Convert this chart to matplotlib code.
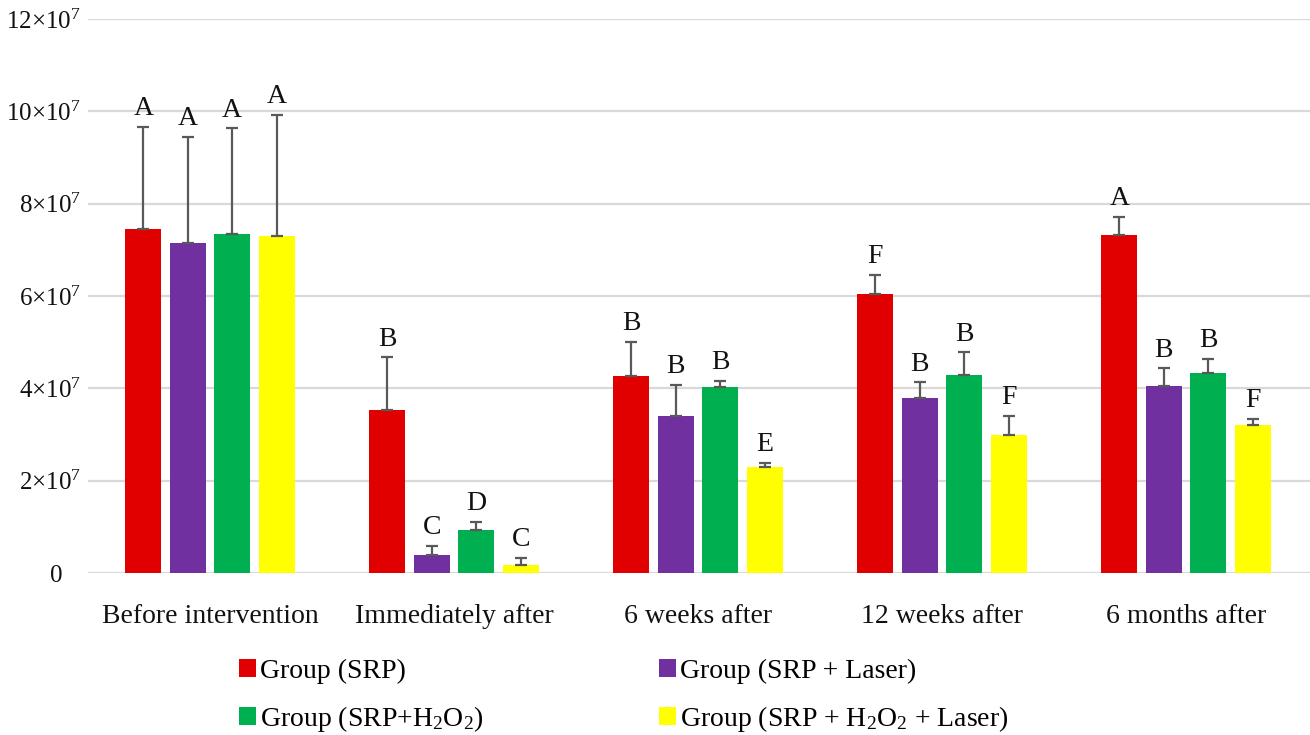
import matplotlib
matplotlib.use('Agg')
import matplotlib.pyplot as plt
import numpy as np

plt.rcParams['font.family'] = ['Liberation Serif', 'DejaVu Serif']
plt.rcParams['mathtext.fontset'] = 'custom'
plt.rcParams['mathtext.rm'] = 'Liberation Serif'
plt.rcParams['mathtext.it'] = 'Liberation Serif:italic'

# time points along the x axis
timepoints = ['Before intervention',
              'Immediately after',
              '6 weeks after',
              '12 weeks after',
              '6 months after']

groupnames = ['Group (SRP)',
              'Group (SRP + Laser)',
              'Group (SRP+H$_2$O$_2$)',
              'Group (SRP + H$_2$O$_2$ + Laser)']

# mean counts, in units of 10^7
srp = [7.46, 3.54, 4.26, 6.04, 7.33]
srp_laser = [7.14, 0.38, 3.40, 3.80, 4.05]
srp_h2o2 = [7.34, 0.93, 4.02, 4.28, 4.34]
srp_h2o2_laser = [7.30, 0.18, 2.29, 2.98, 3.21]

# upper error bars (sd), in units of 10^7
srp_err = [2.21, 1.13, 0.74, 0.42, 0.39]
srp_laser_err = [2.30, 0.20, 0.67, 0.33, 0.38]
srp_h2o2_err = [2.29, 0.18, 0.14, 0.50, 0.30]
srp_h2o2_laser_err = [2.63, 0.15, 0.10, 0.43, 0.13]

# significance letters
srp_letters = ['A', 'B', 'B', 'F', 'A']
srp_laser_letters = ['A', 'C', 'B', 'B', 'B']
srp_h2o2_letters = ['A', 'D', 'B', 'B', 'B']
srp_h2o2_laser_letters = ['A', 'C', 'E', 'F', 'F']

yticks = [0, 2, 4, 6, 8, 10, 12]

colors = ['#e00000', '#7030a0', '#00b050', '#ffff00']

means = [srp, srp_laser, srp_h2o2, srp_h2o2_laser]
errs = [srp_err, srp_laser_err, srp_h2o2_err, srp_h2o2_laser_err]
letters = [srp_letters, srp_laser_letters, srp_h2o2_letters, srp_h2o2_laser_letters]

barwidth = 0.148
barstep = 0.182

fig = plt.figure(figsize=(13.1, 7.35), dpi=100)
ax = fig.add_axes([88 / 1310, 1 - 573 / 735, 1222 / 1310, (573 - 19) / 735])

x = np.arange(len(timepoints))
handles = []
for k in range(4):
    xs = x + (k - 1.5) * barstep
    vals = np.array(means[k]) * 1e7
    up = np.array(errs[k]) * 1e7
    b = ax.bar(xs, vals, width=barwidth, color=colors[k], zorder=3)
    handles.append(b)
    ax.errorbar(xs, vals, yerr=[np.zeros(len(vals)), up], fmt='none', ecolor='#595959',
                elinewidth=1.6, capsize=4, capthick=1.6, zorder=4)
    for xx, top, lab in zip(xs, vals + up, letters[k]):
        ax.annotate(lab, (xx, top), xytext=(0, 8.5), textcoords='offset points',
                    ha='center', va='baseline', fontsize=20, color='#111111', zorder=5)

ax.set_xlim(-0.5, 4.508)
ax.set_ylim(0, 12e7)
ax.set_yticks([t * 1e7 for t in yticks])
ax.set_yticklabels(['0   ' if t == 0 else f'{t}×10$^{{7}}$' for t in yticks], fontsize=18)
ax.set_xticks(x)
ax.set_xticklabels(timepoints, fontsize=20)
ax.tick_params(axis='both', length=0, colors='#111111')
ax.tick_params(axis='y', pad=5)
ax.tick_params(axis='x', pad=22)
ax.grid(axis='y', color='#d9d9d9', linewidth=1.6, zorder=0)
for s in ax.spines.values():
    s.set_visible(False)

# legend order so the two rows read red/purple then green/yellow
order = [0, 2, 1, 3]
fig.legend([handles[i] for i in order], [groupnames[i] for i in order],
           ncol=2, loc='upper left', bbox_to_anchor=(239 / 1310, 1 - 659 / 735),
           frameon=False, fontsize=20, handlelength=0.62, handleheight=0.62,
           handletextpad=0.15, columnspacing=6.3, labelspacing=0.72,
           borderpad=0, borderaxespad=0)

plt.savefig('out.png', dpi=100)
